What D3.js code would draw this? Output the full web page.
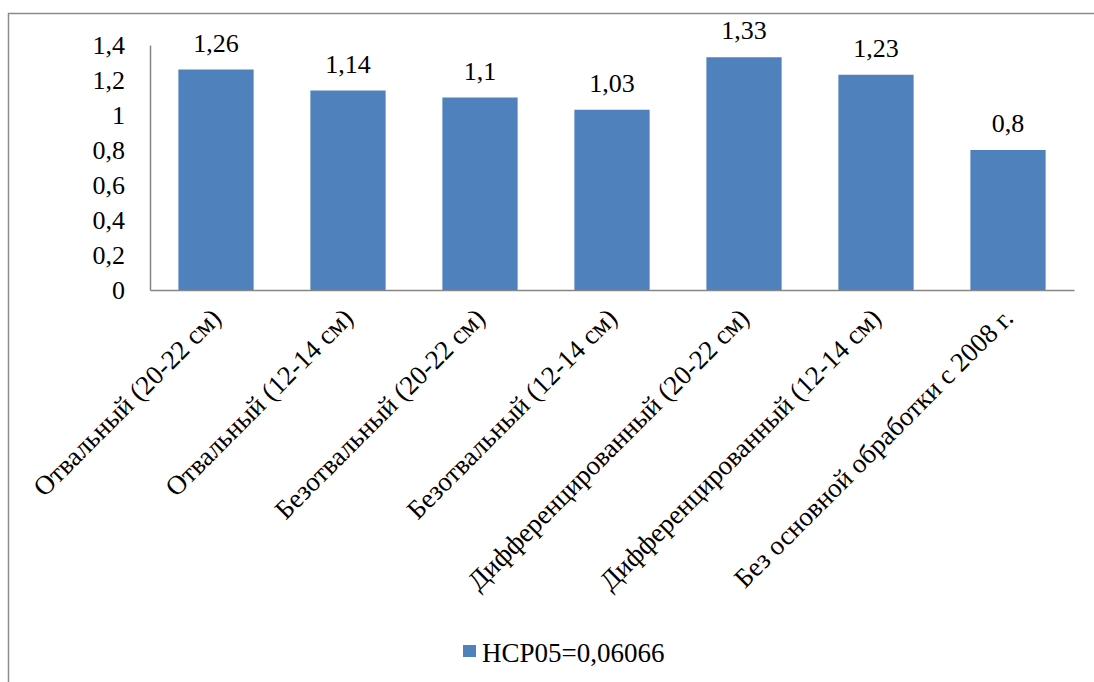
<!DOCTYPE html>
<html>
<head>
<meta charset="utf-8">
<script src="https://cdn.jsdelivr.net/npm/d3@7"></script>
<style>
  html, body { margin: 0; padding: 0; background: #fff; }
  svg { display: block; }
</style>
</head>
<body>
<svg id="chart" width="1094" height="682"></svg>
<script>
// Tillage variants and their values
const categories = [
  "Отвальный (20-22 см)",
  "Отвальный (12-14 см)",
  "Безотвальный (20-22 см)",
  "Безотвальный (12-14 см)",
  "Дифференцированный (20-22 см)",
  "Дифференцированный (12-14 см)",
  "Без основной обработки с 2008 г."
];
const values = [1.26, 1.14, 1.1, 1.03, 1.33, 1.23, 0.8];
const yTicks = [0, 0.2, 0.4, 0.6, 0.8, 1, 1.2, 1.4];
const legendLabel = "НСР05=0,06066";

const FONT = "'Liberation Serif', 'Times New Roman', 'DejaVu Serif', serif";

const svg = d3.select("#chart");
const x0 = 150, x1 = 1074, yTop = 45, yBase = 290;

const fmt = v => String(v).replace(".", ",");

// outer chart frame
svg.append("rect")
  .attr("x", 8.5).attr("y", 13.5)
  .attr("width", 1100).attr("height", 700)
  .attr("fill", "none").attr("stroke", "#8c8c8c").attr("stroke-width", 1.5);

const x = d3.scaleBand().domain(categories).range([x0, x1]).paddingInner(0.43).paddingOuter(0.215);
const y = d3.scaleLinear().domain([0, 1.4]).range([yBase, yTop]);

// bars
svg.append("g").selectAll("rect")
  .data(values)
  .join("rect")
  .attr("x", (d, i) => x(categories[i]))
  .attr("y", d => y(d))
  .attr("width", x.bandwidth())
  .attr("height", d => y(0) - y(d))
  .attr("fill", "#4f81bd");

// value labels
svg.append("g").selectAll("text")
  .data(values)
  .join("text")
  .attr("x", (d, i) => x(categories[i]) + x.bandwidth() / 2)
  .attr("y", d => y(d) - 18)
  .attr("text-anchor", "middle")
  .style("font-family", FONT)
  .style("font-size", "26px")
  .attr("fill", "#000")
  .text(d => fmt(d));

// y axis
const yAxis = d3.axisLeft(y).tickValues(yTicks).tickSize(0).tickPadding(25).tickFormat(fmt);
const gy = svg.append("g").attr("transform", `translate(${x0},0)`).call(yAxis);
gy.attr("font-family", FONT);
gy.select(".domain").attr("stroke", "#868686").attr("stroke-width", 1.5);
gy.selectAll("text").style("font-family", FONT).style("font-size", "26px").attr("fill", "#000");

// x axis with slanted category names
const xAxis = d3.axisBottom(x).tickSize(0).tickFormat(d => d);
const gx = svg.append("g").attr("transform", `translate(0,${yBase})`).call(xAxis);
gx.attr("font-family", FONT);
gx.select(".domain").attr("stroke", "#868686").attr("stroke-width", 1.5);
gx.selectAll("text")
  .style("font-family", FONT)
  .style("font-size", "27px")
  .attr("fill", "#000")
  .attr("text-anchor", "end")
  .attr("y", 0).attr("dy", "0.35em")
  .attr("transform", "translate(0,23) rotate(-45)");

// legend
const lg = svg.append("g").attr("transform", "translate(463,645)");
lg.append("rect").attr("width", 13).attr("height", 12).attr("fill", "#4f81bd");
lg.append("text").attr("x", 19).attr("y", 17)
  .style("font-family", FONT).style("font-size", "27px").attr("fill", "#000")
  .text(legendLabel);
</script>
</body>
</html>
